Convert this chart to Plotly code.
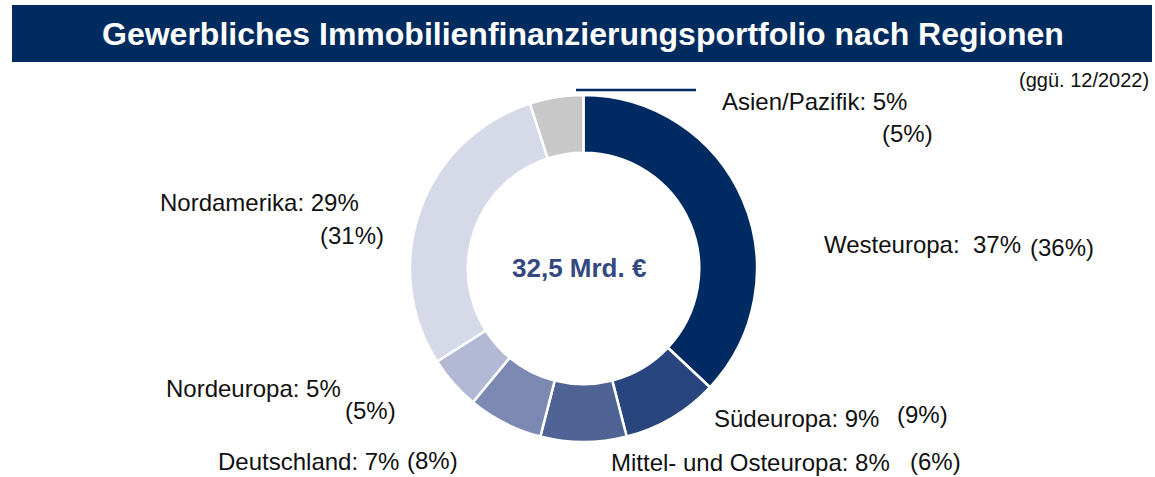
import plotly.graph_objects as go

W, H = 1155, 477

regions = ["Westeuropa", "Südeuropa", "Mittel- und Osteuropa", "Deutschland",
           "Nordeuropa", "Nordamerika", "Asien/Pazifik"]
shares = [37, 9, 8, 7, 5, 29, 5]
prev_shares = [36, 9, 6, 8, 5, 31, 5]
colors = ["#002b62", "#29457d", "#4f6394", "#7c89b3", "#b3b9d5", "#d5d9e8", "#c8c8c8"]

title_text = "Gewerbliches Immobilienfinanzierungsportfolio nach Regionen"
center_text = "32,5 Mrd. €"
compare_text = "(ggü. 12/2022)"

def px(x):
    return x / W

def py(y):
    return 1 - y / H

FONT = "Liberation Sans, Arial, sans-serif"
LBL = 24

fig = go.Figure()
fig.add_trace(go.Pie(
    labels=regions, values=shares, sort=False, direction="clockwise", rotation=0,
    hole=0.667, marker=dict(colors=colors, line=dict(color="white", width=2.5)),
    textinfo="none", hoverinfo="label+percent", showlegend=False,
    domain=dict(x=[px(409), px(758)], y=[py(442), py(95)]),
))

# label positions (main label, previous value) in pixels: (x, y, anchor)
main_pos = {
    "Westeuropa": (822, 244, "left"),
    "Südeuropa": (712, 418, "left"),
    "Mittel- und Osteuropa": (609, 462, "left"),
    "Deutschland": (216, 461, "left"),
    "Nordeuropa": (164, 388, "left"),
    "Nordamerika": (158, 202, "left"),
    "Asien/Pazifik": (720, 101, "left"),
}
prev_pos = {
    "Westeuropa": (1028, 248, "left"),
    "Südeuropa": (895, 414, "left"),
    "Mittel- und Osteuropa": (908, 461, "left"),
    "Deutschland": (405, 460, "left"),
    "Nordeuropa": (343, 410, "left"),
    "Nordamerika": (318, 236, "left"),
    "Asien/Pazifik": (880, 133, "left"),
}

annotations = []
for r, s, p in zip(regions, shares, prev_shares):
    sep = ":  " if r == "Westeuropa" else ": "
    x, y, a = main_pos[r]
    annotations.append(dict(x=px(x), y=py(y), xref="paper", yref="paper",
                            text=f"{r}{sep}{s}%", showarrow=False, xanchor=a, yanchor="middle",
                            font=dict(family=FONT, size=LBL, color="#111111")))
    x, y, a = prev_pos[r]
    annotations.append(dict(x=px(x), y=py(y), xref="paper", yref="paper",
                            text=f"({p}%)", showarrow=False, xanchor=a, yanchor="middle",
                            font=dict(family=FONT, size=LBL, color="#111111")))

annotations.append(dict(x=px(1151), y=py(80), xref="paper", yref="paper", text=compare_text,
                        showarrow=False, xanchor="right", yanchor="middle",
                        font=dict(family=FONT, size=20, color="#111111")))
annotations.append(dict(x=px(579), y=py(268), xref="paper", yref="paper", text=f"<b>{center_text}</b>",
                        showarrow=False, xanchor="center", yanchor="middle",
                        font=dict(family=FONT, size=26, color="#34497f")))
annotations.append(dict(x=px(583), y=py(34), xref="paper", yref="paper", text=f"<b>{title_text}</b>",
                        showarrow=False, xanchor="center", yanchor="middle",
                        font=dict(family=FONT, size=32, color="white")))

shapes = [
    dict(type="rect", xref="paper", yref="paper", x0=px(12), x1=px(1152), y0=py(62), y1=py(5),
         fillcolor="#002b5e", line=dict(width=0), layer="below"),
    dict(type="line", xref="paper", yref="paper", x0=px(576), x1=px(696), y0=py(90), y1=py(90),
         line=dict(color="#002b62", width=2.5)),
]

fig.update_layout(width=W, height=H, margin=dict(l=0, r=0, t=0, b=0),
                  paper_bgcolor="white", plot_bgcolor="white",
                  annotations=annotations, shapes=shapes)
fig.write_html("out.html", config={"displayModeBar": False},
               post_script="document.body.style.margin='0px';document.body.style.overflow='hidden';")
